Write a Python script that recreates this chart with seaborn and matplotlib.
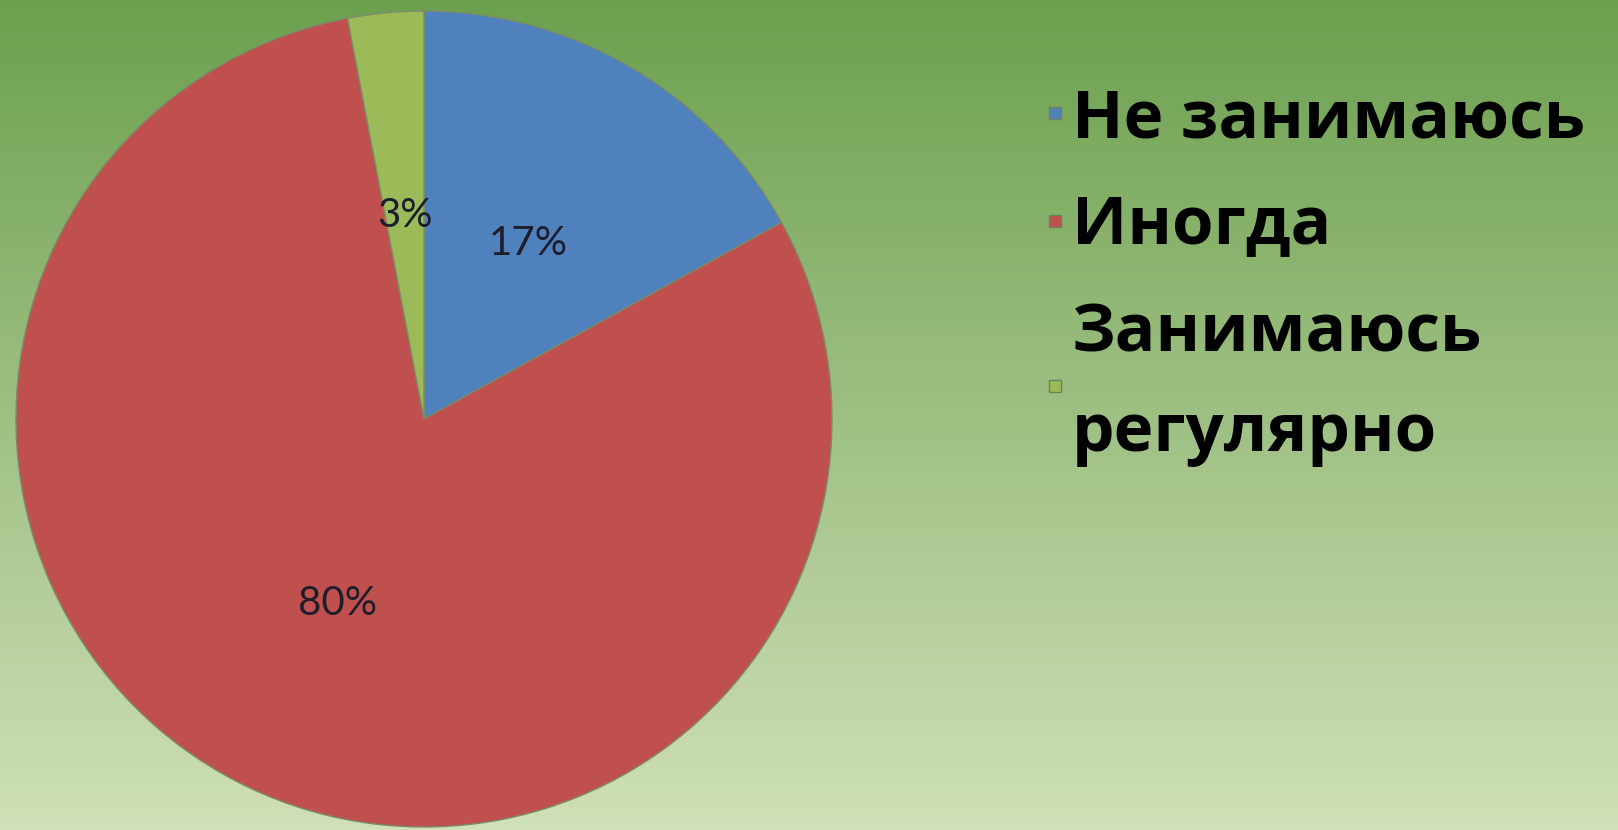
import numpy as np
import matplotlib
matplotlib.use("Agg")
import matplotlib.pyplot as plt
import seaborn as sns
from matplotlib.lines import Line2D

categories = ["Не занимаюсь", "Иногда", "Занимаюсь\nрегулярно"]
values = [17, 80, 3]
colors = ["#4F81BD", "#C0504D", "#9BBB59"]

sns.set_theme(style="white")
plt.rcParams['font.family'] = ['Lato', 'DejaVu Sans']

W, H = 1618, 830
fig = plt.figure(figsize=(W / 100, H / 100), dpi=100)

# background gradient
bg = fig.add_axes([0, 0, 1, 1], zorder=0)
top = np.array([108, 160, 78]) / 255
bot = np.array([208, 224, 184]) / 255
t = np.linspace(0, 1, 256)[:, None]
grad = top[None, :] * (1 - t) + bot[None, :] * t
bg.imshow(grad[:, None, :], aspect='auto', extent=[0, 1, 0, 1], origin='upper')
bg.set_axis_off()

# pie
cx, cy, r = 424, 411, 408
ax = fig.add_axes([(cx - r) / W, (cy - r) / H, 2 * r / W, 2 * r / H], zorder=1)
wedges, texts, autotexts = ax.pie(
    values, colors=colors, startangle=90, counterclock=False,
    autopct=lambda p: f"{p:.0f}%", pctdistance=0.5,
    wedgeprops=dict(edgecolor="#7d8a6a", linewidth=1.0),
    textprops=dict(fontsize=29, color="#1d1d2b"))
for w in wedges:
    w.set_clip_on(False)
ax.set_xlim(-1, 1)
ax.set_ylim(-1, 1)
ax.set_axis_off()

handles = [Line2D([], [], marker='s', linestyle='', markersize=8.5,
                  markerfacecolor=c, markeredgecolor="#6f7f60", markeredgewidth=1)
           for c in colors]
leg = fig.legend(handles, categories, loc='upper left',
                 bbox_to_anchor=(1048 / W, 1 - 86 / H), frameon=False,
                 prop=dict(family=['Open Sans', 'DejaVu Sans'], weight='bold', size=48.5),
                 handlelength=0.2, handletextpad=0.15,
                 labelspacing=0.6, borderpad=0, borderaxespad=0)
for txt in leg.get_texts():
    txt.set_color("black")
    txt.set_linespacing(1.63)

fig.savefig("out.png", dpi=100)
